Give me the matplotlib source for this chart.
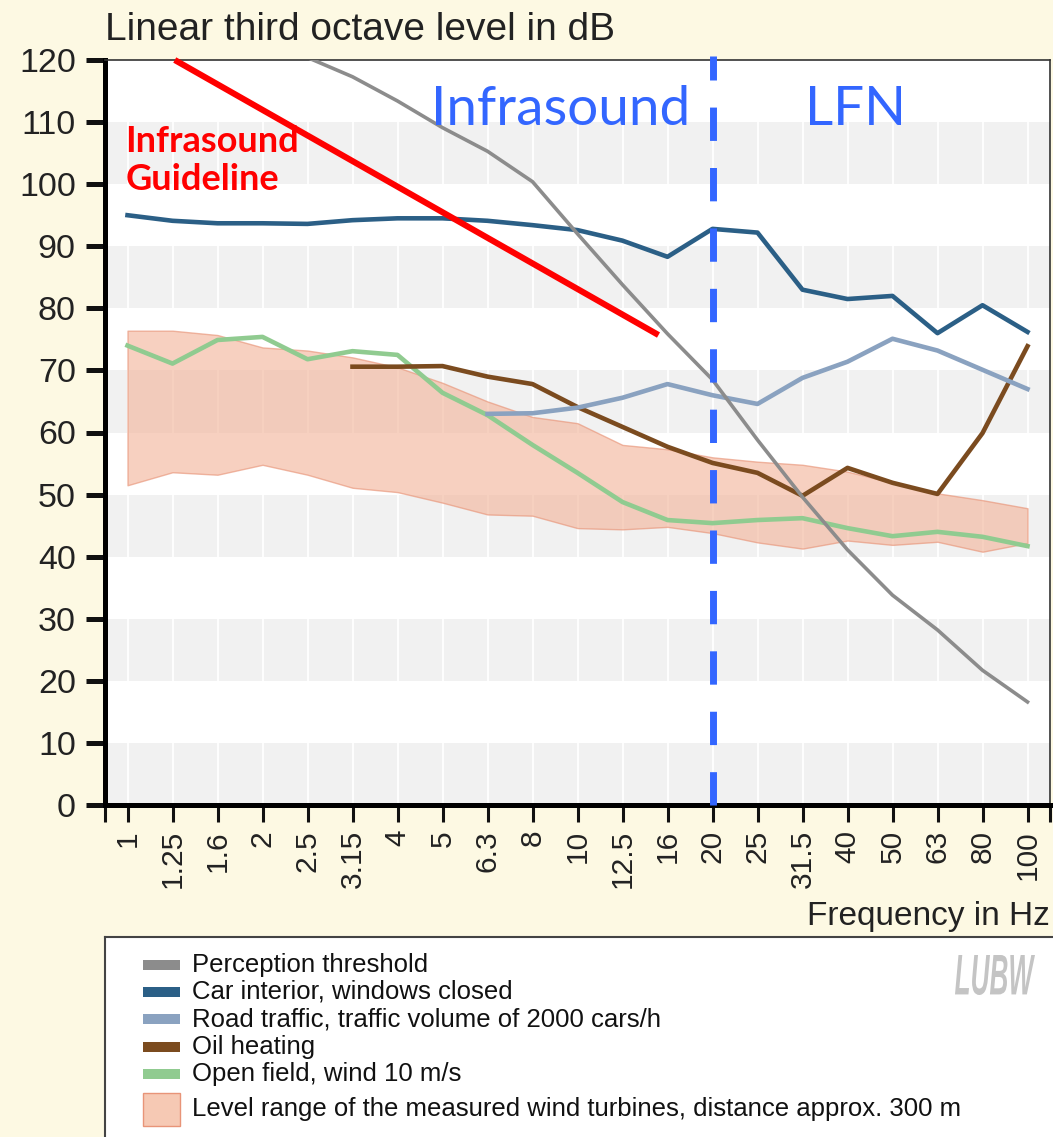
import numpy as np
import matplotlib
matplotlib.use("Agg")
import matplotlib.pyplot as plt
from matplotlib.patches import Rectangle, PathPatch
from matplotlib.textpath import TextPath
from matplotlib.font_manager import FontProperties
from matplotlib.transforms import Affine2D

plt.rcParams['lines.scale_dashes'] = False

# third octave band centre frequencies (Hz)
freq_labels = ['1', '1.25', '1.6', '2', '2.5', '3.15', '4', '5', '6.3', '8', '10',
               '12.5', '16', '20', '25', '31.5', '40', '50', '63', '80', '100']

nan = np.nan
perception = [nan, nan, nan, nan, 120.4, 117.3, 113.4, 109.1, 105.3, 100.4, 92.0,
              83.8, 75.9, 68.5, 58.8, 49.6, 41.1, 33.8, 28.2, 21.7, 16.6]
car_interior = [95.0, 94.1, 93.7, 93.7, 93.6, 94.2, 94.5, 94.5, 94.1, 93.4, 92.6,
                90.9, 88.3, 92.8, 92.2, 83.0, 81.5, 82.0, 76.0, 80.5, 76.2]
road_traffic = [nan, nan, nan, nan, nan, nan, nan, nan, 63.0, 63.1, 64.0,
                65.6, 67.8, 66.0, 64.6, 68.8, 71.4, 75.1, 73.2, 70.1, 67.0]
oil_heating = [nan, nan, nan, nan, nan, 70.6, 70.6, 70.7, 69.0, 67.8, 64.1,
               60.9, 57.7, 55.1, 53.5, 49.8, 54.3, 51.9, 50.1, 59.9, 73.9]
open_field = [74.0, 71.1, 74.9, 75.4, 71.8, 73.1, 72.5, 66.4, 62.8, 58.0, 53.5,
              48.8, 45.9, 45.4, 45.9, 46.2, 44.6, 43.3, 44.0, 43.2, 41.7]
turbine_high = [76.4, 76.4, 75.7, 73.7, 73.2, 72.1, 70.5, 68.0, 65.0, 62.5, 61.5,
                58.0, 57.3, 56.0, 55.3, 54.8, 53.7, 51.9, 50.2, 49.1, 47.8]
turbine_low = [51.5, 53.6, 53.2, 54.8, 53.2, 51.1, 50.4, 48.7, 46.8, 46.6, 44.6,
               44.4, 44.8, 43.8, 42.3, 41.3, 42.6, 41.9, 42.4, 40.8, 42.2]

# hand drawn "infrasound guideline" (band position, dB)
guide_pos = [1.05, 11.8]
guide_db = [120.0, 75.7]
split_band = '20'   # boundary infrasound / LFN

legend_labels = ['Perception threshold', 'Car interior, windows closed',
                 'Road traffic, traffic volume of 2000 cars/h', 'Oil heating',
                 'Open field, wind 10 m/s',
                 'Level range of the measured wind turbines, distance approx. 300 m']

bg = '#fdf9e3'
c_perc = '#8c8c8c'
c_car = '#2b5f86'
c_road = '#8aa2c0'
c_oil = '#7b4b1f'
c_field = '#90cb90'
c_band = '#f3b89f'
c_band_edge = '#e89478'

W, H = 1053, 1137
fig = plt.figure(figsize=(W / 100, H / 100), dpi=100, facecolor=bg)
ax = fig.add_axes([105 / W, (H - 805) / H, 945 / W, 745 / H])
ax.set_facecolor('white')

x = np.arange(len(freq_labels))
ax.set_xlim(-0.5, len(freq_labels) - 0.5)
ax.set_ylim(0, 120)

for lo in range(0, 120, 20):
    ax.axhspan(lo, lo + 10, color='#f1f1f1', lw=0, zorder=0)
for xi in x:
    ax.axvline(xi, color='white', lw=1.3, zorder=0.5)

ax.fill_between(x, turbine_low, turbine_high, facecolor=c_band, alpha=0.65,
                edgecolor=c_band_edge, lw=1, zorder=1)
ax.plot(x, open_field, color=c_field, lw=3.3, zorder=2)
ax.plot(x, oil_heating, color=c_oil, lw=3.3, zorder=2)
ax.plot(x, road_traffic, color=c_road, lw=3.3, zorder=2)
ax.plot(x, car_interior, color=c_car, lw=3.3, zorder=2)
ax.plot(x, perception, color=c_perc, lw=2.6, zorder=3)

ax.plot(guide_pos, guide_db, color='#ff0000', lw=4.4, solid_capstyle='butt',
        zorder=4, clip_on=False)
xs = freq_labels.index(split_band)
ax.plot([xs, xs], [0, 120.6], color='#3366ff', lw=5, dashes=(24, 19.5),
        dash_capstyle='butt', zorder=5, clip_on=False)

ax.text(9.63, 112.0, 'Infrasound', color='#3366ff', fontsize=39.5, family='Lato',
        ha='center', va='center', zorder=6)
ax.text(16.17, 112.0, 'LFN', color='#3366ff', fontsize=39.5, family='Lato',
        ha='center', va='center', zorder=6)
ax.text(-0.05, 109.6, 'Infrasound\nGuideline', color='#ff0000', fontsize=26,
        family='Lato', weight='bold', ha='left', va='top', linespacing=1.2,
        zorder=6)

# axes styling
ax.spines['left'].set_linewidth(3.6)
ax.spines['bottom'].set_linewidth(3.6)
ax.spines['top'].set_linewidth(1.2)
ax.spines['right'].set_linewidth(1.2)
ax.spines['top'].set_color('#333333')
ax.spines['right'].set_color('#333333')

ax.set_yticks(np.arange(0, 121, 10))
ax.tick_params(axis='y', length=14, width=3.6, pad=7, labelsize=24.5,
               color='#111111', labelcolor='#222222')
ax.set_xticks(np.concatenate([[-0.5], x, [len(freq_labels) - 0.5]]))
ax.set_xticklabels([''] + freq_labels + [''], rotation=90, family='Liberation Sans')
ax.tick_params(axis='x', length=12, width=2.2, pad=6, labelsize=21.5,
               color='#111111', labelcolor='#222222')
for lab in ax.get_yticklabels():
    lab.set_family('Liberation Sans')

fig.text(105 / W, (H - 40) / H, 'Linear third octave level in dB', fontsize=28,
         family='Liberation Sans', color='#222222', ha='left', va='baseline')
fig.text(1050 / W, (H - 925) / H, 'Frequency in Hz', fontsize=24,
         family='Liberation Sans', color='#222222', ha='right', va='baseline')

# legend box
lax = fig.add_axes([105 / W, 0, 1 - 105 / W, (H - 937) / H])
lax.set_xlim(105, W)
lax.set_ylim(H, 937)
lax.set_facecolor('white')
lax.set_xticks([])
lax.set_yticks([])
for side in ['right', 'bottom']:
    lax.spines[side].set_visible(False)
for side in ['left', 'top']:
    lax.spines[side].set_color('#444444')
    lax.spines[side].set_linewidth(1.5)

row_y = [965, 992, 1019, 1047, 1074]
for yy, col, lab in zip(row_y, [c_perc, c_car, c_road, c_oil, c_field], legend_labels[:5]):
    lax.add_patch(Rectangle((143, yy - 5), 37, 10, facecolor=col, edgecolor='none'))
    lax.text(192, yy, lab, fontsize=18.5, family='Liberation Sans', color='#111111',
             ha='left', va='center')
lax.add_patch(Rectangle((143, 1093), 37, 33, facecolor='#f6c9b4', edgecolor=c_band_edge, lw=1))
lax.text(192, 1109, legend_labels[5], fontsize=18.5, family='Liberation Sans',
         color='#111111', ha='left', va='center')

# LUBW logo, squeezed horizontally
logo = TextPath((0, 0), 'LUBW', size=40,
                prop=FontProperties(family='Liberation Sans', weight='bold', style='italic'))
ext = logo.get_extents()
tr = Affine2D().translate(-ext.x0, -ext.y0).scale(80 / ext.width, -40 / ext.height).translate(955, 995)
lax.add_patch(PathPatch(tr.transform_path(logo), facecolor='#c4c4c4', edgecolor='none'))

fig.savefig('out.png', dpi=100, facecolor=bg)
